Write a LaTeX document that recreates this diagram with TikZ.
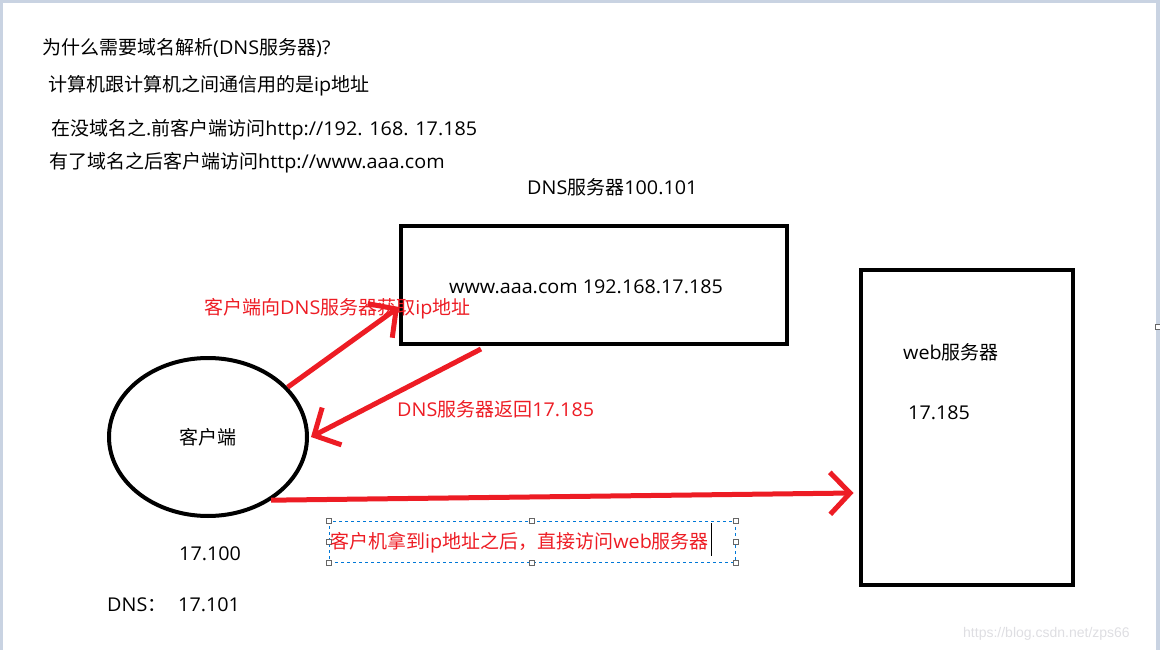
\documentclass[tikz,border=0pt]{standalone}
\usepackage{fontspec}
\setmainfont{Open Sans}[FakeStretch=1.04]
\newfontfamily\cjkfont{Noto Sans CJK SC}
\newfontfamily\wmfont{Liberation Sans}
\newcommand{\cn}[1]{{\cjkfont #1}}
\usetikzlibrary{shapes.geometric,arrows.meta}

\definecolor{pred}{RGB}{237,28,36}
\definecolor{selblue}{RGB}{0,120,215}
\definecolor{framegray}{RGB}{201,211,226}
\definecolor{wmgray}{RGB}{222,222,226}

\begin{document}
\begin{tikzpicture}[x=1pt,y=-1pt]
   \tikzset{txt/.style={anchor=base west,inner sep=0,font=\fontsize{19}{22}\selectfont},
            redtxt/.style={txt,text=pred},
            box/.style 2 args={draw,line width=4pt,minimum width=#1,minimum height=#2,inner sep=0},
            arr/.style={draw=pred,line width=5pt,-{Straight Barb[length=20pt,width=42pt]}},
            handle/.style={draw=black!60,fill=white,line width=0.8pt,minimum size=5pt,inner sep=0}};

\useasboundingbox (0,0) rectangle (1160,650);
\fill[framegray] (0,0) rectangle (1160,3);
\fill[framegray] (0,0) rectangle (3,650);
\fill[framegray] (1156,0) rectangle (1160,650);
\node[handle] (rs) at (1158,326.5) {};

% top lines
\node[txt] (t1) at (42,55) {\cn{为什么需要域名解析}(DNS\cn{服务器})?};
\node[txt] (t2) at (48,92) {\cn{计算机跟计算机之间通信用的是}ip\cn{地址}};
\node[txt] (t3) at (51,136) {\cn{在没域名之}.\cn{前客户端访问}http://192. 168. 17.185};
\node[txt] (t4) at (49,168) {\cn{有了域名之后客户端访问}http://www.aaa.com};

% dns server
\node[txt] (dnsname) at (527,194) {DNS\cn{服务器}100.101};
\node[box={386pt}{118pt}] (dns) at (594,285) {};
\node[txt] (rec) at (449,293) {www.aaa.com 192.168.17.185};

% web server
\node[box={212pt}{315pt}] (web) at (966.5,427) {};
\node[txt] (webname) at (903,359) {web\cn{服务器}};
\node[txt] (webip) at (908,419) {17.185};

% client
\node[draw,ellipse,line width=4pt,minimum width=198pt,minimum height=158pt,
      font=\fontsize{19}{22}\selectfont] (client) at (208,437) {\cn{客户端}};
\node[txt] (cip) at (179,560) {17.100};
\node[txt] (cdns) at (107,611) {DNS\cn{：}};
\node[txt] (cdnsip) at (178,611) {17.101};

% arrows
\draw[arr] (client.32) -- ([yshift=-22pt]dns.west);
\draw[arr] ([xshift=-113pt,yshift=-3pt]dns.south) -- ([xshift=2pt]client.east);
\draw[arr] (client.-45) -- ([xshift=-5pt,yshift=-66pt]web.west);

\node[redtxt] (ask) at (204,314) {\cn{客户端向}DNS\cn{服务器获取}ip\cn{地址}};
\node[redtxt] (back) at (397,416) {DNS\cn{服务器返回}17.185};

% text box being edited
\node[draw=selblue,dashed,line width=0.8pt,minimum width=406pt,minimum height=41pt,inner sep=0] (sel) at (532,541.5) {};
\foreach \a in {north west,north,north east,west,east,south west,south,south east}
   \node[handle] at (sel.\a) {};
\node[redtxt] (direct) at (330,548) {\cn{客户机拿到}ip\cn{地址之后，直接访问}web\cn{服务器}};
\draw[line width=1pt] (711,523) -- (711,556);

\node[anchor=base west,inner sep=0,font=\wmfont\fontsize{14}{16}\selectfont,text=wmgray] (wm) at (963,637) {https://blog.csdn.net/zps66};

\end{tikzpicture}
\end{document}
